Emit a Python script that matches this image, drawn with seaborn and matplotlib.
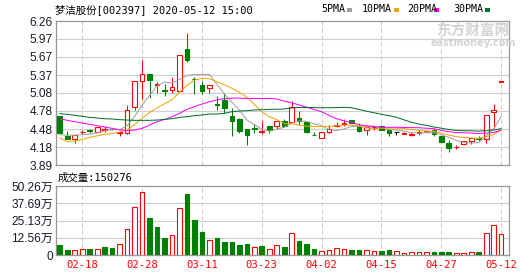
import numpy as np
import pandas as pd
import matplotlib
matplotlib.use("Agg")
import matplotlib.pyplot as plt
from matplotlib.patches import Rectangle
import seaborn as sns

# ---------------- data ----------------
dates = ['02-13','02-14','02-17','02-18','02-19','02-20','02-21','02-24','02-25','02-26',
         '02-27','02-28','03-02','03-03','03-04','03-05','03-06','03-09','03-10','03-11',
         '03-12','03-13','03-16','03-17','03-18','03-19','03-20','03-23','03-24','03-25',
         '03-26','03-27','03-30','03-31','04-01','04-02','04-03','04-07','04-08','04-09',
         '04-10','04-13','04-14','04-15','04-16','04-17','04-20','04-21','04-22','04-23',
         '04-24','04-27','04-28','04-29','04-30','05-06','05-07','05-08','05-11','05-12']
tick_dates = ['02-18','02-28','03-11','03-23','04-02','04-15','04-27','05-12']

opens = [4.69,4.37,4.31,4.43,4.46,4.44,4.47,4.49,4.42,4.42,
         4.84,5.28,5.39,5.21,5.12,5.13,5.11,5.80,5.31,5.21,
         5.15,4.89,4.96,4.70,4.65,4.48,4.50,4.44,4.53,4.54,
         4.61,4.60,4.67,4.59,4.39,4.33,4.44,4.54,4.57,4.63,
         4.53,4.47,4.50,4.53,4.47,4.43,4.40,4.39,4.42,4.44,
         4.47,4.36,4.25,4.18,4.24,4.29,4.33,4.32,4.76,5.26]
highs = [4.69,4.45,4.38,4.47,4.48,4.52,4.53,4.49,4.45,4.88,
         5.28,5.61,5.39,5.26,5.22,5.34,5.70,6.07,5.34,5.27,
         5.20,5.03,5.08,4.82,4.67,4.48,4.56,4.61,4.53,4.61,
         4.65,4.94,4.78,4.59,4.44,4.43,4.55,4.60,4.64,4.63,
         4.58,4.51,4.55,4.55,4.47,4.43,4.43,4.44,4.47,4.46,
         4.48,4.36,4.30,4.22,4.29,4.33,4.36,4.71,4.89,5.27]
lows = [4.41,4.31,4.26,4.40,4.41,4.44,4.44,4.47,4.36,4.40,
        4.80,4.98,5.00,5.08,5.03,5.08,5.11,5.58,5.06,5.06,
        5.07,4.79,4.74,4.37,4.42,4.22,4.42,4.40,4.41,4.49,
        4.52,4.58,4.55,4.42,4.38,4.33,4.41,4.51,4.54,4.58,
        4.44,4.38,4.47,4.47,4.36,4.39,4.40,4.36,4.39,4.44,
        4.36,4.27,4.10,4.16,4.24,4.24,4.28,4.26,4.50,5.26]
closes = [4.41,4.31,4.38,4.44,4.45,4.51,4.48,4.48,4.43,4.79,
          5.27,5.39,5.29,5.22,5.11,5.18,5.70,5.61,5.30,5.10,
          5.20,4.88,4.82,4.62,4.45,4.39,4.49,4.45,4.46,4.61,
          4.54,4.85,4.61,4.44,4.38,4.43,4.48,4.55,4.58,4.58,
          4.45,4.51,4.51,4.47,4.41,4.43,4.41,4.40,4.43,4.45,
          4.40,4.27,4.17,4.19,4.29,4.33,4.32,4.71,4.79,5.27]
# volume in 万
volumes = [7.25,3.63,3.39,4.11,4.35,4.11,5.80,5.08,7.74,18.6,
           35.3,46.2,26.8,20.3,12.3,14.3,34.1,44.2,25.4,16.7,
           10.6,12.3,9.43,9.43,7.25,7.98,5.56,6.53,4.11,7.25,
           5.80,15.7,10.2,7.98,4.35,2.90,3.39,4.84,4.11,3.63,
           3.63,3.39,2.66,2.90,3.63,2.66,1.45,1.93,1.93,1.93,
           2.18,2.18,2.18,1.21,1.21,1.93,2.18,15.7,22.2,15.03]
vol_dir = "GGRRGRGGRRRRGGGRRGGGRGGGGGRGRRGRGGGRRRRGGRRGGRRRRRGGGRRRGRRR"

ma5_head = [4.39, 4.38, 4.38, 4.39]
ma10_head = [4.34, 4.27, 4.285, 4.31, 4.345, 4.37, 4.395, 4.41, 4.43]
ma20_head = [4.65, 4.625, 4.603, 4.581, 4.559, 4.537, 4.515, 4.493, 4.471, 4.455,
             4.466, 4.493, 4.548, 4.603, 4.64, 4.685, 4.740, 4.806, 4.850]
ma30_head = [4.735, 4.724, 4.707, 4.691, 4.674, 4.663, 4.652, 4.647, 4.636, 4.630,
             4.625, 4.625, 4.625, 4.630, 4.64, 4.652, 4.674, 4.685, 4.702, 4.713,
             4.729, 4.729, 4.740, 4.767, 4.778, 4.784, 4.795, 4.800, 4.806]

price_ticks = [3.89, 4.18, 4.48, 4.78, 5.08, 5.37, 5.67, 5.97, 6.26]
vol_ticks = [0, 12.56, 25.13, 37.69, 50.26]
vol_tick_labels = ['0', '12.56万', '25.13万', '37.69万', '50.26万']

title_text = '梦洁股份[002397] 2020-05-12 15:00'
vol_title = '成交量:150276'
ma_names = ['5PMA', '10PMA', '20PMA', '30PMA']
ma_colors = ['#a0a0a0', '#f5a300', '#ff00ff', '#006e2e']

# ---------------- computation ----------------
n = len(closes)
idx = np.arange(n)
cs = pd.Series(closes, dtype=float)
mas = []
for w, head in zip([5, 10, 20, 30], [ma5_head, ma10_head, ma20_head, ma30_head]):
    m = cs.rolling(w).mean().to_numpy()
    m[:w - 1] = head
    mas.append(m)

RED = '#ff0000'
GREEN = '#008000'

sns.set_theme(style='white')
plt.rcParams['font.family'] = ['Liberation Sans', 'Noto Sans CJK SC', 'DejaVu Sans']
plt.rcParams['axes.unicode_minus'] = False

W, H = 530, 276
fig = plt.figure(figsize=(W / 100, H / 100), dpi=100)
fig.patch.set_facecolor('white')
L, R = 56, 509
ax1 = fig.add_axes([L / W, 1 - 165 / H, (R - L) / W, (165 - 21) / H])
ax2 = fig.add_axes([L / W, 1 - 255 / H, (R - L) / W, (255 - 186) / H])

xmin, xmax = -0.51, 60.05
tick_idx = [dates.index(d) for d in tick_dates]
px = 0.72  # 1 pixel in points

for ax in (ax1, ax2):
    ax.set_facecolor('white')
    ax.set_xlim(xmin, xmax)
    ax.set_xticks(tick_idx)
    ax.grid(False)
    for x in tick_idx:
        ax.axvline(x, color='#c8c8c8', lw=px, ls=(0, (4, 3)), zorder=0)
    for s in ax.spines.values():
        s.set_color('#999999')
        s.set_linewidth(1.3 * px)
    ax.tick_params(axis='both', length=0)

# price panel
ax1.set_ylim(price_ticks[0], price_ticks[-1])
ax1.set_yticks(price_ticks)
ax1.set_yticklabels([f'{v:.2f}' for v in price_ticks], fontsize=8.6, color='#1a1a2a')
ax1.tick_params(axis='y', pad=2.2)
ax1.set_xticklabels([])
for v in price_ticks[1:-1]:
    ax1.axhline(v, color='#d0d0d0', lw=1.2 * px, zorder=0)

bw = 0.62
for i in range(n):
    o, h, l, c = opens[i], highs[i], lows[i], closes[i]
    if c > o:
        col, fc = RED, 'white'
    elif c < o:
        col, fc = GREEN, GREEN
    else:
        col, fc = 'black', 'black'
    ax1.vlines(i, l, h, color=col, lw=px, zorder=2)
    bot = min(o, c)
    ht = max(abs(c - o), 0.001)
    ax1.bar(i, ht, bottom=bot, width=bw, facecolor=fc, edgecolor=col,
            linewidth=1.1 * px, zorder=3)

for m, col in zip(mas, ma_colors):
    sns.lineplot(x=idx, y=m, ax=ax1, color=col, lw=1.0 * px, zorder=4)
ax1.set_xlabel('')
ax1.set_ylabel('')

# volume panel
ax2.set_ylim(0, vol_ticks[-1])
ax2.set_yticks(vol_ticks)
ax2.set_yticklabels(vol_tick_labels, fontsize=8.6, color='#1a1a2a')
ax2.tick_params(axis='y', pad=2.2)
for v in vol_ticks[1:-1]:
    ax2.axhline(v, color='#d0d0d0', lw=1.2 * px, zorder=0)
for i in range(n):
    if vol_dir[i] == 'R':
        ax2.bar(i, volumes[i], width=bw, facecolor='white', edgecolor=RED,
                linewidth=1.1 * px, zorder=3)
    else:
        ax2.bar(i, volumes[i], width=bw, facecolor=GREEN, edgecolor=GREEN,
                linewidth=1.1 * px, zorder=3)
ax2.set_xticklabels(tick_dates, color=RED, fontsize=7.6, family='DejaVu Sans Mono')
ax2.tick_params(axis='x', pad=3.5)

# texts
mono = ['DejaVu Sans Mono', 'Noto Sans CJK SC']
fig.text(55 / W, 1 - 9.5 / H, title_text, fontsize=7.5, family=mono,
         ha='left', va='center', color='black')
fig.text(58 / W, 1 - 177.5 / H, vol_title, fontsize=7.5, family=mono,
         ha='left', va='center', color='black')

leg_x = [321, 362, 407, 453]
sq_x = [347, 394, 434, 485]
for name, col, tx, sx in zip(ma_names, ma_colors, leg_x, sq_x):
    fig.text(tx / W, 1 - 9.5 / H, name, fontsize=7.2, family='DejaVu Sans Mono',
             ha='left', va='center', color='black')
    fig.patches.append(Rectangle((sx / W, 1 - 11.5 / H), 5 / W, 4 / H,
                                 transform=fig.transFigure, facecolor=col,
                                 edgecolor='none'))

# watermark
fig.text(473 / W, 1 - 31 / H, '东方财富网', fontsize=10.5, weight='bold',
         family=['Noto Sans CJK SC'], ha='center', va='center', color='#d4d4d4')
fig.text(473 / W, 1 - 43 / H, 'eastmoney.com', fontsize=7, weight='bold',
         family=['DejaVu Sans'], ha='center', va='center', color='#d4d4d4')

fig.savefig('out.png', dpi=100, facecolor='white')
